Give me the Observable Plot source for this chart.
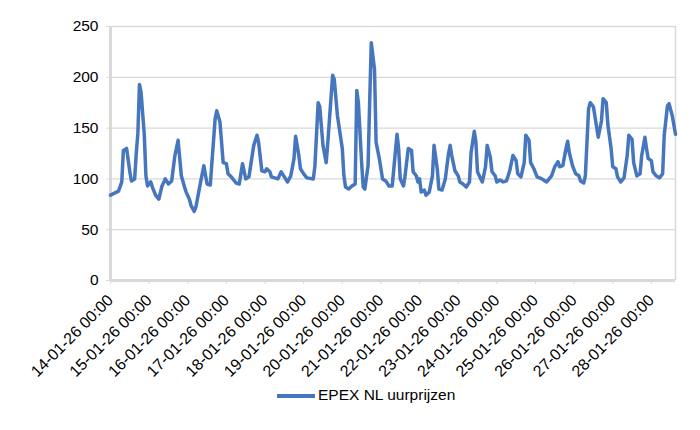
<!DOCTYPE html>
<html>
<head>
<meta charset="utf-8">
<script src="https://cdn.jsdelivr.net/npm/d3@7"></script>
<script src="https://cdn.jsdelivr.net/npm/@observablehq/plot@0.6"></script>
<style>
  body { margin: 0; background: #fff; font-family: "Liberation Sans", Arial, sans-serif; }
  #wrap { position: relative; width: 700px; height: 430px; }
  #legend { position: absolute; left: 277px; top: 386px; font-size: 15.5px; line-height: 18px; color: #000; white-space: nowrap; }
  #legend .swatch { position: absolute; left: 0; top: 8px; width: 38px; height: 4px; background: #4676bd; }
  #legend .label { position: absolute; left: 41px; top: 0; }
</style>
</head>
<body>
<div id="wrap">
  <div id="chart"></div>
  <div id="legend"><span class="swatch"></span><span class="label">EPEX NL uurprijzen</span></div>
</div>
<script>
// Hour offsets from 14-01-26 00:00 and hourly prices (EUR/MWh)
const hours = [0,5,7,8,10,12,13,15,16,17,18,19,21,22,23,25,26,28,30,32,34,36,38,40,42,44,46,47,49,50,52,53,56,58,60,62,63,65,66,68,69,70,72,73,75,78,80,82,84,86,89,91,92,94,96,97,99,100,104,106,108,110,112,114,115,117,118,120,122,126,127,129,130,132,134,135,138,139,141,144,145,146,148,150,152,153,154,156,157,158,160,161,162,164,165,167,169,171,173,175,176,178,179,180,182,183,185,187,188,190,191,192,193,195,196,198,200,201,203,204,206,208,210,211,212,214,216,217,219,221,223,224,226,227,228,230,231,233,234,236,237,239,240,242,244,246,248,250,252,253,255,257,258,260,261,263,265,268,271,274,276,278,279,281,283,284,285,287,289,291,292,294,295,297,298,300,302,303,305,306,308,309,311,312,314,315,317,319,321,322,324,325,327,329,330,332,333,334,336,337,339,341,343,344,346,347,349,351];
const prices = [84,88,97,128,130,107,98,100,125,145,193,185,143,103,93,97,92,84,80,93,100,95,98,123,138,103,92,87,80,74,68,72,97,113,95,94,116,159,167,156,136,116,115,105,102,96,95,115,100,102,133,143,136,108,107,110,107,102,100,107,102,97,103,120,142,123,110,105,101,100,113,175,171,133,116,136,202,198,162,130,103,92,90,93,95,187,175,116,92,90,113,175,234,208,136,120,100,98,93,93,110,144,130,100,93,103,130,128,107,103,97,100,87,89,84,87,103,133,110,90,89,100,125,133,123,108,103,97,95,92,97,126,147,136,107,100,97,112,133,121,107,103,97,99,97,98,108,123,118,105,102,116,143,138,116,110,102,100,97,103,112,117,112,113,130,137,126,113,105,103,98,96,103,169,175,171,151,141,157,179,175,153,130,112,110,102,97,101,123,143,139,116,103,105,123,141,130,120,118,107,103,101,105,143,172,174,162,144];
const tickLabels = ["14-01-26 00:00","15-01-26 00:00","16-01-26 00:00","17-01-26 00:00","18-01-26 00:00","19-01-26 00:00","20-01-26 00:00","21-01-26 00:00","22-01-26 00:00","23-01-26 00:00","24-01-26 00:00","25-01-26 00:00","26-01-26 00:00","27-01-26 00:00","28-01-26 00:00"];
const yTicks = [0, 50, 100, 150, 200, 250];

const data = hours.map((h, i) => ({h, p: prices[i]}));
const xTicks = tickLabels.map((_, i) => i * 24);
const lastHour = hours[hours.length - 1];

const chart = Plot.plot({
  width: 700,
  height: 385,
  marginLeft: 110,
  marginRight: 25,
  marginTop: 26,
  marginBottom: 105,
  style: { fontFamily: '"Liberation Sans", Arial, sans-serif', fontSize: "15.5px", color: "#000", background: "#fff" },
  x: { domain: [0, lastHour] },
  y: { domain: [0, 250] },
  marks: [
    Plot.gridY(yTicks, { stroke: "#d9d9d9", strokeOpacity: 1, strokeWidth: 1.3 }),
    Plot.axisY({ ticks: yTicks, label: null, tickSize: 4, tickPadding: 8, stroke: "#d9d9d9", strokeOpacity: 1, fill: "#000", fontSize: 15.5 }),
    Plot.axisX({ ticks: xTicks, label: null, tickFormat: (d) => tickLabels[xTicks.indexOf(d)], tickRotate: -45, tickSize: 4, tickPadding: 13, stroke: "#d9d9d9", strokeOpacity: 1, fill: "#000", fontSize: 16 }),
    Plot.ruleX([lastHour], { stroke: "#d9d9d9", strokeWidth: 1.5 }),
    Plot.ruleY([0], { stroke: "#d9d9d9", strokeWidth: 3 }),
    Plot.ruleX([0], { stroke: "#d9d9d9", strokeWidth: 3 }),
    Plot.line(data, { x: "h", y: "p", stroke: "#4676bd", strokeWidth: 3.5, strokeLinejoin: "round", strokeLinecap: "round" })
  ]
});
document.getElementById("chart").appendChild(chart);
</script>
</body>
</html>
